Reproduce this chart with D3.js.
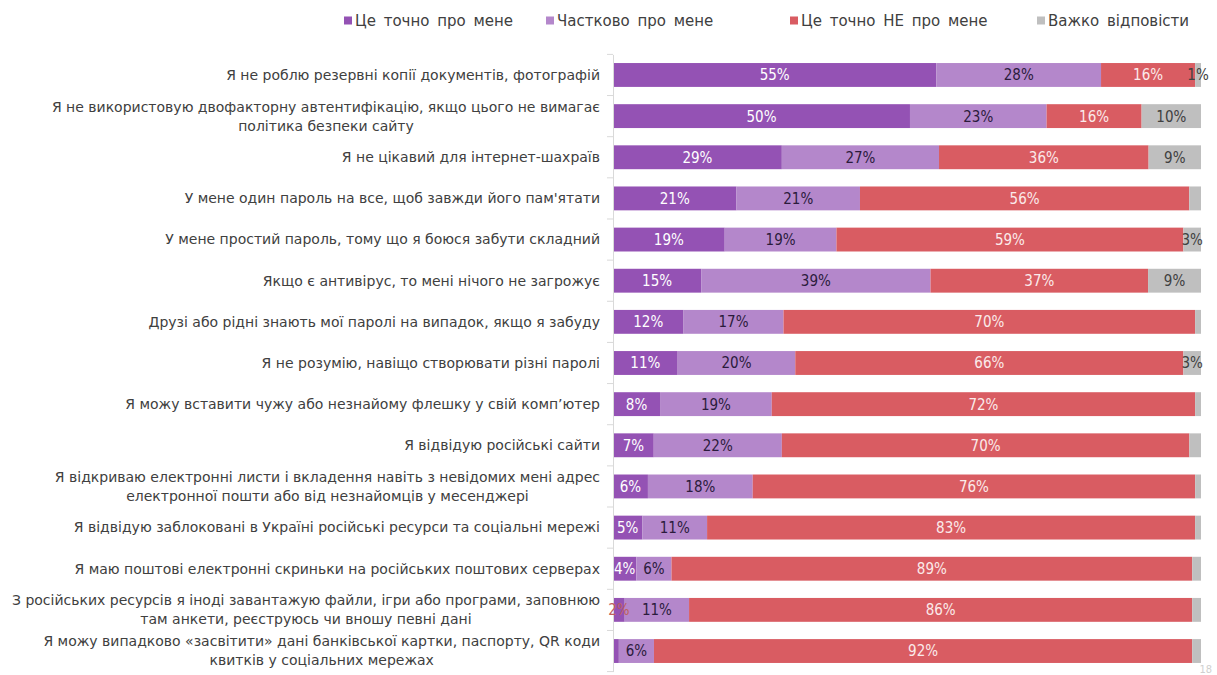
<!DOCTYPE html>
<html>
<head>
<meta charset="utf-8">
<script src="https://cdn.jsdelivr.net/npm/d3@7"></script>
<style>
  body { margin: 0; background: #fff; }
  svg { font-family: "DejaVu Sans Condensed", "DejaVu Sans", sans-serif; }
  .wide { font-family: "DejaVu Sans", sans-serif; }
</style>
</head>
<body>
<div id="chart"></div>
<script>
(function () {

  // Categories (each entry is a list of lines)
  const categories = [
    ["Я не роблю резервні копії документів, фотографій"],
    ["Я не використовую двофакторну автентифікацію, якщо цього не вимагає", "політика безпеки сайту"],
    ["Я не цікавий для інтернет-шахраїв"],
    ["У мене один пароль на все, щоб завжди його пам'ятати"],
    ["У мене простий пароль, тому що я боюся забути складний"],
    ["Якщо є антивірус, то мені нічого не загрожує"],
    ["Друзі або рідні знають мої паролі на випадок, якщо я забуду"],
    ["Я не розумію, навіщо створювати різні паролі"],
    ["Я можу вставити чужу або незнайому флешку у свій комп’ютер"],
    ["Я відвідую російські сайти"],
    ["Я відкриваю  електронні листи і вкладення навіть з невідомих мені адрес", "електронної пошти або від незнайомців у месенджері"],
    ["Я відвідую заблоковані в Україні російські ресурси та соціальні мережі"],
    ["Я маю поштові електронні скриньки на російських поштових серверах"],
    ["З російських ресурсів я іноді завантажую файли, ігри або програми, заповнюю", "там анкети, реєструюсь чи вношу певні дані"],
    ["Я можу випадково «засвітити» дані банківської картки, паспорту, QR коди", "квитків у соціальних мережах"]
  ]

  // Series
  const seriesNames = ["Це точно про мене", "Частково про мене", "Це точно НЕ про мене", "Важко відповісти"]
  const definitely = [55, 50, 29, 21, 19, 15, 12, 11, 8, 7, 6, 5, 4, 2, 1]
  const partly     = [28, 23, 27, 21, 19, 39, 17, 20, 19, 22, 18, 11, 6, 11, 6]
  const notMe      = [16, 16, 36, 56, 59, 37, 70, 66, 72, 70, 76, 83, 89, 86, 92]
  const hardToSay  = [1, 10, 9, 2, 3, 9, 1, 3, 1, 2, 1, 1, 1.5, 1.5, 1.5]

  // Labels that are not shown: [series index, row index]
  const hiddenLabels = [[0, 14], [3, 3], [3, 6], [3, 8], [3, 9], [3, 10], [3, 11], [3, 12], [3, 13], [3, 14]]

  const colors = ["#9452b4", "#b487cb", "#d95c62", "#bfbfbf"]
  const labelColors = ["#ffffff", "#2b1b3c", "#fbeaea", "#404040"]

  const width = 1217
  const height = 675

  const keys = ["a", "b", "c", "d"]
  const rows = categories.map((c, i) => ({
    i: i, a: definitely[i], b: partly[i], c: notMe[i], d: hardToSay[i]
  }))

  const stacked = d3.stack().keys(keys).offset(d3.stackOffsetExpand)(rows)

  const x = d3.scaleLinear().domain([0, 1]).range([613, 1201])
  const y = d3.scaleBand()
    .domain(d3.range(categories.length))
    .range([54.4, 671.6])
    .paddingInner(0.42)
    .paddingOuter(0.21)

  const svg = d3.select("#chart").append("svg")
    .attr("width", width)
    .attr("height", height)

  // Legend
  const legendX = [344, 546, 790, 1037]
  const legend = svg.append("g").selectAll("g")
    .data(seriesNames)
    .join("g")
    .attr("transform", (d, i) => `translate(${legendX[i]}, 21)`)
  legend.append("rect")
    .attr("x", 0).attr("y", -4.5).attr("width", 8).attr("height", 8)
    .attr("fill", (d, i) => colors[i])
  legend.append("text")
    .attr("class", "wide")
    .attr("x", 11).attr("dy", "0.35em")
    .attr("font-size", 15).attr("fill", "#404040")
    .attr("word-spacing", 3)
    .text(d => d)

  // Bars
  const layer = svg.append("g").selectAll("g")
    .data(stacked)
    .join("g")
    .attr("fill", (d, i) => colors[i])
  layer.selectAll("rect")
    .data(d => d)
    .join("rect")
    .attr("x", d => x(d[0]))
    .attr("y", (d, i) => y(i))
    .attr("width", d => x(d[1]) - x(d[0]))
    .attr("height", y.bandwidth())

  // Axis
  const axis = svg.append("g")
    .attr("transform", "translate(613,0)")
    .call(d3.axisLeft(y).tickSize(0).tickFormat(""))
  axis.select(".domain").attr("stroke", "#d9d9d9")
  svg.append("g").selectAll("line")
    .data(d3.range(categories.length + 1))
    .join("line")
    .attr("x1", 607).attr("x2", 613)
    .attr("y1", i => y(0) - y.step() * y.paddingInner() / 2 + i * y.step())
    .attr("y2", i => y(0) - y.step() * y.paddingInner() / 2 + i * y.step())
    .attr("stroke", "#d9d9d9")

  // Value labels
  const values = [definitely, partly, notMe, hardToSay]
  const isHidden = (s, r) => hiddenLabels.some(h => h[0] === s && h[1] === r)
  stacked.forEach((ser, s) => {
    svg.append("g").selectAll("text")
      .data(ser.filter((d, r) => !isHidden(s, r)))
      .join("text")
      .attr("x", d => (x(d[0]) + x(d[1])) / 2)
      .attr("y", d => y(d.data.i) + y.bandwidth() / 2)
      .attr("dy", "0.36em")
      .attr("text-anchor", "middle")
      .attr("font-size", 15)
      .attr("fill", d => (s === 0 && values[0][d.data.i] < 3) ? "#c0605e" : labelColors[s])
      .text(d => Math.round(values[s][d.data.i]) + "%")
  })

  // Category labels
  const catG = svg.append("g")
  categories.forEach((lines, i) => {
    const cy = y(i) + y.bandwidth() / 2
    const t = catG.append("text")
      .attr("class", "wide")
      .attr("font-size", 14)
      .attr("fill", "#404040")
      .attr("text-anchor", "middle")
    const tsp = lines.map((l, k) => t.append("tspan")
      .attr("y", cy + (k - (lines.length - 1) / 2) * 19)
      .attr("dy", "0.35em")
      .text(l))
    const w = d3.max(tsp, s => s.node().getComputedTextLength())
    tsp.forEach(s => s.attr("x", 600 - w / 2))
  })

  // Page number
  svg.append("text")
    .attr("x", 1212).attr("y", 673)
    .attr("text-anchor", "end")
    .attr("font-size", 11)
    .attr("fill", "#d0d0d0")
    .text("18")

})();
</script>
</body>
</html>
